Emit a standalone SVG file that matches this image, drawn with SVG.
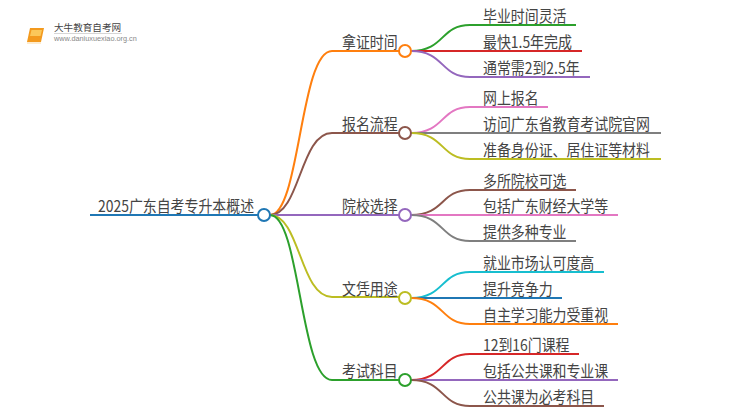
<svg xmlns="http://www.w3.org/2000/svg" width="750" height="410" viewBox="0 0 750 410">
<style>
text{font-family:"Noto Sans CJK SC","Noto Sans",sans-serif;fill:#444;font-size:16px}
.c path{fill:none;stroke-width:2}
circle{fill:#fff;stroke-width:2}
.o{stroke:#ff7f0e}.b{stroke:#8c564b}.p{stroke:#9467bd}.y{stroke:#bcbd22}.g{stroke:#2ca02c}.r{stroke:#d62728}.k{stroke:#e377c2}.h{stroke:#7f7f7f}.t{stroke:#17becf}.u{stroke:#1f77b4}
</style>
<rect width="750" height="410" fill="#fff"/>
<g id="logo">
<path d="M30 28H44L41 42H27Z" fill="#f39a1e"/>
<path d="M31.500 30H42L40.500 36H30Z" fill="#fbc85a"/>
<path d="M27 43H41" stroke="#fbd9a0" stroke-width="1" fill="none"/>
<circle cx="25" cy="25" r="1.800" fill="#fbdc9a" stroke="none"/><circle cx="31" cy="22" r="2" fill="#fbd488" stroke="none"/><circle cx="37" cy="22" r="2" fill="#fbd488" stroke="none"/><circle cx="43" cy="24" r="2" fill="#fbd07a" stroke="none"/><circle cx="47" cy="29" r="2.200" fill="#fbcf70" stroke="none"/><circle cx="22" cy="31" r="1.500" fill="#fde5b8" stroke="none"/><circle cx="23" cy="37" r="1.300" fill="#fde5b8" stroke="none"/>
<text x="54" y="31" style="font-size:9.600px">大牛教育自考网</text>
<rect x="54" y="33" width="68" height="0.800" fill="#ccc"/>
<text x="54" y="41" style="font-size:7.300px;font-family:'Liberation Sans',sans-serif;fill:#888">www.daniuxuexiao.org.cn</text>
</g>
<g class="c" id="connectors">
<path class="u" d="M90 215H258"/>
<path class="o" d="M270 215C300 215 300 51 332 51H400"/>
<path class="b" d="M270 215C300 215 300 133 332 133H400"/>
<path class="p" d="M270 215H400"/>
<path class="y" d="M270 215C300 215 300 297 332 297H400"/>
<path class="g" d="M270 215C300 215 300 380 332 380H400"/>
<path class="g" d="M411 51C445 51 440 25 470 25H576"/>
<path class="r" d="M411 51H582"/>
<path class="p" d="M411 51C445 51 440 77 470 77H590"/>
<path class="k" d="M411 133C445 133 440 107 470 107H548"/>
<path class="h" d="M411 133H661"/>
<path class="y" d="M411 133C445 133 440 159 470 159H661"/>
<path class="b" d="M411 215C445 215 440 190 470 190H576"/>
<path class="k" d="M411 215H618"/>
<path class="h" d="M411 215C445 215 440 241 470 241H576"/>
<path class="t" d="M411 298C445 298 440 272 470 272H604"/>
<path class="u" d="M411 298H562"/>
<path class="o" d="M411 298C445 298 440 324 470 324H618"/>
<path class="r" d="M411 380C445 380 440 354 470 354H579"/>
<path class="p" d="M411 380H618"/>
<path class="b" d="M411 380C445 380 440 406 470 406H604"/>
</g>
<g id="root"><text transform="translate(98 212) scale(.87 1)">2025广东自考专升本概述</text><circle class="u" cx="264" cy="215" r="6"/></g>
<g id="n1"><text transform="translate(342 48) scale(.87 1)">拿证时间</text><circle class="o" cx="405" cy="51" r="6"/></g>
<g id="n2"><text transform="translate(342 130) scale(.87 1)">报名流程</text><circle class="b" cx="405" cy="133" r="6"/></g>
<g id="n3"><text transform="translate(342 212) scale(.87 1)">院校选择</text><circle class="p" cx="405" cy="215" r="6"/></g>
<g id="n4"><text transform="translate(342 294.500) scale(.87 1)">文凭用途</text><circle class="y" cx="405" cy="298" r="6"/></g>
<g id="n5"><text transform="translate(342 377) scale(.87 1)">考试科目</text><circle class="g" cx="405" cy="380" r="6"/></g>
<g id="l1"><text transform="translate(483 22) scale(.87 1)">毕业时间灵活</text></g>
<g id="l2"><text transform="translate(483 48) scale(.87 1)">最快1.5年完成</text></g>
<g id="l3"><text transform="translate(483 74) scale(.87 1)">通常需2到2.5年</text></g>
<g id="l4"><text transform="translate(483 104) scale(.87 1)">网上报名</text></g>
<g id="l5"><text transform="translate(483 130) scale(.87 1)">访问广东省教育考试院官网</text></g>
<g id="l6"><text transform="translate(483 156) scale(.87 1)">准备身份证、居住证等材料</text></g>
<g id="l7"><text transform="translate(483 186.500) scale(.87 1)">多所院校可选</text></g>
<g id="l8"><text transform="translate(483 212) scale(.87 1)">包括广东财经大学等</text></g>
<g id="l9"><text transform="translate(483 238) scale(.87 1)">提供多种专业</text></g>
<g id="l10"><text transform="translate(483 268.500) scale(.87 1)">就业市场认可度高</text></g>
<g id="l11"><text transform="translate(483 294.500) scale(.87 1)">提升竞争力</text></g>
<g id="l12"><text transform="translate(483 320.500) scale(.87 1)">自主学习能力受重视</text></g>
<g id="l13"><text transform="translate(483 350.500) scale(.87 1)">12到16门课程</text></g>
<g id="l14"><text transform="translate(483 376.500) scale(.87 1)">包括公共课和专业课</text></g>
<g id="l15"><text transform="translate(483 402.500) scale(.87 1)">公共课为必考科目</text></g>
</svg>
